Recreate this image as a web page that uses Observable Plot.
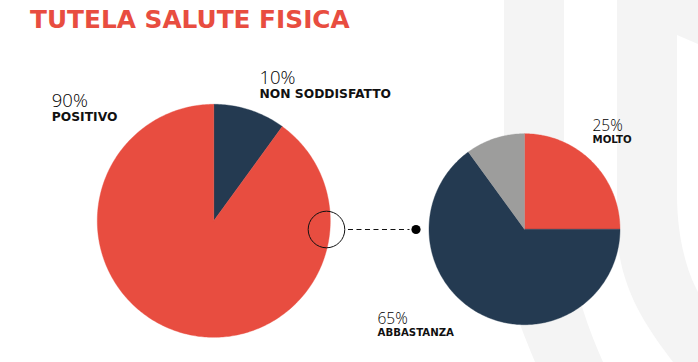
<!DOCTYPE html>
<html>
<head>
<meta charset="utf-8">
<script src="https://cdn.jsdelivr.net/npm/d3@7"></script>
<script src="https://cdn.jsdelivr.net/npm/@observablehq/plot@0.6"></script>
<style>
  html, body { margin: 0; padding: 0; background: #fff; }
  #wrap { position: relative; width: 698px; height: 362px; overflow: hidden; }
  #bg { position: absolute; left: 0; top: 0; }
  #chart { position: absolute; left: 0; top: 0; }
  #chart svg { background: transparent !important; }
</style>
</head>
<body>
<div id="wrap">
  <svg id="bg" width="698" height="362" aria-hidden="true">
    <path fill="#f4f4f4" d="M504,0 L564,0 L564,205 C564,255 582,315 603,362 L535,362 C520,325 504,290 504,235 Z"/>
    <path fill="#f4f4f4" d="M617,0 L698,0 L698,44 L677,35 L677,195 C677,235 686,270 698,292 L698,362 L673,362 C645,325 617,285 617,225 Z"/>
  </svg>
  <div id="chart"></div>
</div>
<script>
// ---- data ----
const titleText = "TUTELA SALUTE FISICA";

const leftCategories = ["NON SODDISFATTO", "POSITIVO"];
const leftValues = [10, 90];
const leftColors = ["#243a51", "#e84d40"];

const rightCategories = ["MOLTO", "ABBASTANZA", "POCO"];
const rightValues = [25, 65, 10];
const rightColors = ["#e84d40", "#243a51", "#9d9d9c"];
const rightShowLabel = [true, true, false];

// ---- layout ----
const W = 698, H = 362;
const leftPie = {cx: 213.3, cy: 220.3, r: 116.5};
const rightPie = {cx: 524, cy: 228.7, r: 95.5};
// label anchors relative to pie centre, per category
const leftLabelOffsets = [[45.7, -137], [-162, -114]];
const rightLabelOffsets = [[68, -98.5], [-147, 94.5], null];
const boldFont = "'DejaVu Sans', sans-serif";

function slices(pie, cats, vals, cols, prefix) {
  const total = d3.sum(vals);
  const pts = [];
  let cum = 0;
  cats.forEach((c, i) => {
    const a0 = cum / total * 2 * Math.PI;
    cum += vals[i];
    const a1 = cum / total * 2 * Math.PI;
    const key = prefix + i;
    pts.push({key, color: cols[i], x: pie.cx, y: pie.cy});
    const n = Math.max(8, Math.ceil((a1 - a0) / (2 * Math.PI) * 400));
    for (let k = 0; k <= n; k++) {
      const a = a0 + (a1 - a0) * k / n;
      pts.push({key, color: cols[i], x: pie.cx + pie.r * Math.sin(a), y: pie.cy - pie.r * Math.cos(a)});
    }
    pts.push({key, color: cols[i], x: pie.cx, y: pie.cy});
  });
  return pts;
}

const slicePoints = [
  ...slices(leftPie, leftCategories, leftValues, leftColors, "L"),
  ...slices(rightPie, rightCategories, rightValues, rightColors, "R")
];

const labels = [];
leftCategories.forEach((c, i) => {
  const o = leftLabelOffsets[i];
  labels.push({x: leftPie.cx + o[0], y: leftPie.cy + o[1], pct: leftValues[i] + "%", name: c, big: true});
});
rightCategories.forEach((c, i) => {
  if (!rightShowLabel[i]) return;
  const o = rightLabelOffsets[i];
  labels.push({x: rightPie.cx + o[0], y: rightPie.cy + o[1], pct: rightValues[i] + "%", name: c, big: false});
});

// connector: ring on left pie edge, dot before right pie
const connY = 229;
const ringX = leftPie.cx + Math.sqrt(leftPie.r ** 2 - (connY - leftPie.cy) ** 2) - 3.5;
const dotX = rightPie.cx - Math.sqrt(rightPie.r ** 2 - (connY - rightPie.cy) ** 2) - 13;
const connector = [{x1: ringX + 22, x2: dotX - 6, y: connY}];

const chart = Plot.plot({
  width: W, height: H,
  margin: 0,
  x: {domain: [0, W], range: [0, W], axis: null},
  y: {domain: [0, H], range: [0, H], axis: null},
  color: {type: "identity"},
  style: {background: "transparent", fontFamily: "'Open Sans', sans-serif"},
  marks: [
    Plot.line(slicePoints, {x: "x", y: "y", z: "key", fill: "color", stroke: "color", strokeWidth: 0.4, curve: "linear"}),
    Plot.ruleY(connector, {x1: "x1", x2: "x2", y: "y", stroke: "#111", strokeWidth: 1.2, strokeDasharray: "5,3.5"}),
    Plot.dot([{x: ringX, y: connY}], {x: "x", y: "y", r: 18.3, stroke: "#111", strokeWidth: 1, fill: "none"}),
    Plot.dot([{x: dotX, y: connY}], {x: "x", y: "y", r: 4.6, fill: "#000", stroke: null}),
    Plot.text(labels, {x: "x", y: "y", text: "pct", textAnchor: "start", lineAnchor: "bottom",
      fontSize: d => d.big ? 18.5 : 15.5, fontWeight: 300, fill: "#000"}),
    Plot.text(labels, {x: "x", y: d => d.y + (d.big ? 14.5 : 12.5), text: "name", textAnchor: "start", lineAnchor: "bottom",
      fontSize: d => d.big ? 12.3 : 10.2, fontWeight: 700, fontFamily: boldFont, fill: "#111"}),
    Plot.text([titleText], {x: () => 29.5, y: () => 27.5, text: d => d, textAnchor: "start", lineAnchor: "bottom",
      fontSize: 24.8, fontWeight: 700, fontFamily: boldFont, fill: "#e84d40"})
  ]
});
document.getElementById("chart").appendChild(chart);
</script>
</body>
</html>
